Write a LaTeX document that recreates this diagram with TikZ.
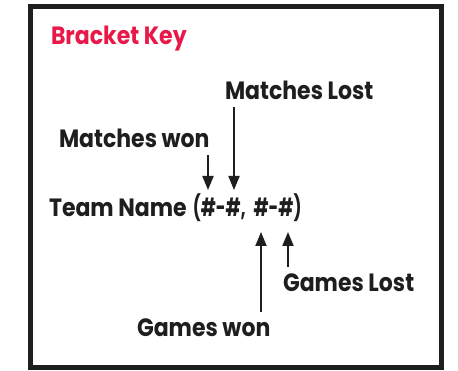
\documentclass[tikz,border=0pt]{standalone}
\usepackage{fontspec}
\setmainfont{Poppins}[FakeStretch=0.88]
\usetikzlibrary{arrows.meta,positioning}
\definecolor{keyred}{RGB}{232,24,72}
\definecolor{keyblack}{RGB}{30,30,30}
\newcommand{\scorefont}{\addfontfeature{FakeStretch=0.67}}

\begin{document}
\begin{tikzpicture}[x=1pt, y=-1pt, >={Triangle[length=14pt,width=11pt]}
                       , line width=2pt, draw=keyblack
                       , lbl/.style={anchor=base west, inner sep=0pt, text=keyblack,
                                     font=\fontsize{25}{28}\selectfont\bfseries}
                       ]
      \useasboundingbox (0,0) rectangle (458,371);
      \draw [line width=5pt] (30.5,6.5) rectangle (441.5,367.5);

      \node (title) [lbl, text=keyred] at (50,45) {Bracket Key};

      \node (mlost) [lbl] at (224,100) {Matches Lost};
      \node (mwon)  [lbl] at (58,148)  {Matches won};
      \node (team)  [lbl] at (48,217)
            {Team Name\hspace{6pt}{\scorefont(\#-\#,\hspace{8pt}\#-\#)}};
      \node (glost) [lbl] at (282,292) {Games Lost};
      \node (gwon)  [lbl] at (136,337) {Games won};

      % arrow ends at the score
      \coordinate (mwonend)  at (208,190);
      \coordinate (mlostend) at (234,190);
      \coordinate (gwonend)  at (261,232);
      \coordinate (glostend) at (288,232);

      \draw [->] (mwon.south -| mwonend) ++(0,6) -- (mwonend);
      \draw [->] (mlost.south -| mlostend) ++(0,6) -- (mlostend);
      \draw [->] (gwon.north -| gwonend) ++(0,-6) -- (gwonend);
      \draw [->] (glost.north -| glostend) ++(0,-6) -- (glostend);
\end{tikzpicture}
\end{document}
